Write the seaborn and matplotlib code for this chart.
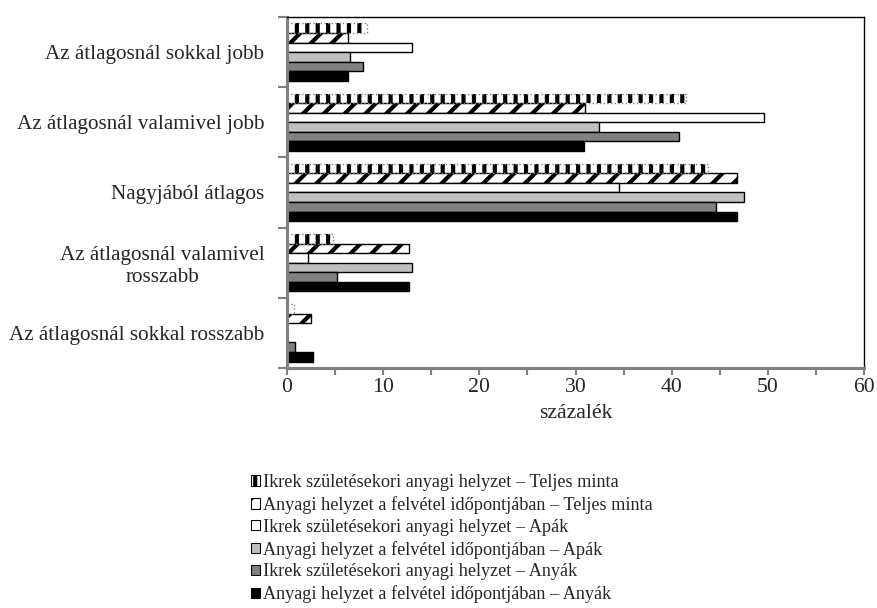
import pandas as pd
import numpy as np
import seaborn as sns
import matplotlib.pyplot as plt
from matplotlib.patches import Rectangle
from matplotlib.ticker import MultipleLocator, FixedLocator

categories = [
    "Az átlagosnál sokkal jobb",
    "Az átlagosnál valamivel jobb",
    "Nagyjából átlagos",
    "Az átlagosnál valamivel\nrosszabb",
    "Az átlagosnál sokkal rosszabb",
]
series = [
    "Ikrek születésekori anyagi helyzet – Teljes minta",
    "Anyagi helyzet a felvétel időpontjában – Teljes minta",
    "Ikrek születésekori anyagi helyzet – Apák",
    "Anyagi helyzet a felvétel időpontjában – Apák",
    "Ikrek születésekori anyagi helyzet – Anyák",
    "Anyagi helyzet a felvétel időpontjában – Anyák",
]
ikrek_teljes = [8.3, 41.5, 43.8, 4.8, 0.7]
anyagi_teljes = [6.3, 31.0, 46.8, 12.7, 2.5]
ikrek_apak = [13.0, 49.6, 34.5, 2.2, 0.0]
anyagi_apak = [6.5, 32.4, 47.5, 13.0, 0.0]
ikrek_anyak = [7.9, 40.8, 44.6, 5.2, 0.8]
anyagi_anyak = [6.3, 30.9, 46.8, 12.7, 2.7]

values = [ikrek_teljes, anyagi_teljes, ikrek_apak, anyagi_apak, ikrek_anyak, anyagi_anyak]
rows = []
for s, vals in zip(series, values):
    for c, v in zip(categories, vals):
        rows.append({"kat": c, "sorozat": s, "szazalek": v})
df = pd.DataFrame(rows)

sns.set_style("white")
plt.rcParams["font.family"] = ["Liberation Serif", "DejaVu Serif"]
plt.rcParams["hatch.color"] = "black"
plt.rcParams["hatch.linewidth"] = 2.4

DPI = 125
fig = plt.figure(figsize=(877 / DPI, 608 / DPI), dpi=DPI)
ax = fig.add_axes([287 / 877, 1 - 368 / 608, (864 - 287) / 877, (368 - 17) / 608])

sns.barplot(data=df, y="kat", x="szazalek", hue="sorozat", order=categories,
            hue_order=series, orient="h", width=0.82, legend=False, ax=ax)

fills = ["white", "white", "white", "#c0c0c0", "#808080", "black"]
hatches = ["||", "//", None, None, None, None]
for i, cont in enumerate(ax.containers):
    for p in cont.patches:
        p.set_facecolor(fills[i])
        p.set_edgecolor("black")
        p.set_linewidth(0 if i == 0 else 0.8)
        if hatches[i]:
            p.set_hatch(hatches[i])
# dotted outline of the striped bars
for p in ax.containers[0].patches:
    if p.get_width() > 0:
        ax.add_patch(Rectangle(p.get_xy(), p.get_width(), p.get_height(), fill=False,
                               edgecolor="#808080", linestyle=":", linewidth=0.8))

ax.set_xlim(0, 60)
ax.xaxis.set_major_locator(MultipleLocator(10))
ax.xaxis.set_minor_locator(MultipleLocator(5))
ax.set_yticks(range(len(categories)))
ax.set_yticklabels(categories, multialignment="center")
ax.yaxis.set_minor_locator(FixedLocator(np.arange(-0.5, len(categories), 1.0)))
ax.tick_params(axis="y", which="major", length=0, pad=13, labelsize=12.2)
ax.tick_params(axis="y", which="minor", length=5, width=1.2, color="#808080", left=True)
ax.tick_params(axis="x", which="both", direction="out", length=4, width=1.2,
               color="#808080", bottom=True, labelsize=12.5, pad=2)
ax.set_xlabel("százalék", fontsize=12.5, labelpad=4)
ax.set_ylabel("")

for side in ["left", "bottom"]:
    ax.spines[side].set_color("#808080")
    ax.spines[side].set_linewidth(1.8)
for side in ["top", "right"]:
    ax.spines[side].set_color("black")
    ax.spines[side].set_linewidth(0.8)

handles = []
for i in range(len(series)):
    handles.append(Rectangle((0, 0), 1, 1, facecolor=fills[i], edgecolor="black",
                             linewidth=0.6, hatch=hatches[i]))
fig.legend(handles, series, loc="upper left", bbox_to_anchor=(251 / 877, 1 - 474 / 608),
           frameon=False, fontsize=10.5, handlelength=0.5, handleheight=0.5,
           handletextpad=0.15, labelspacing=0.27, borderaxespad=0, borderpad=0)

fig.savefig("out.png", dpi=DPI)
